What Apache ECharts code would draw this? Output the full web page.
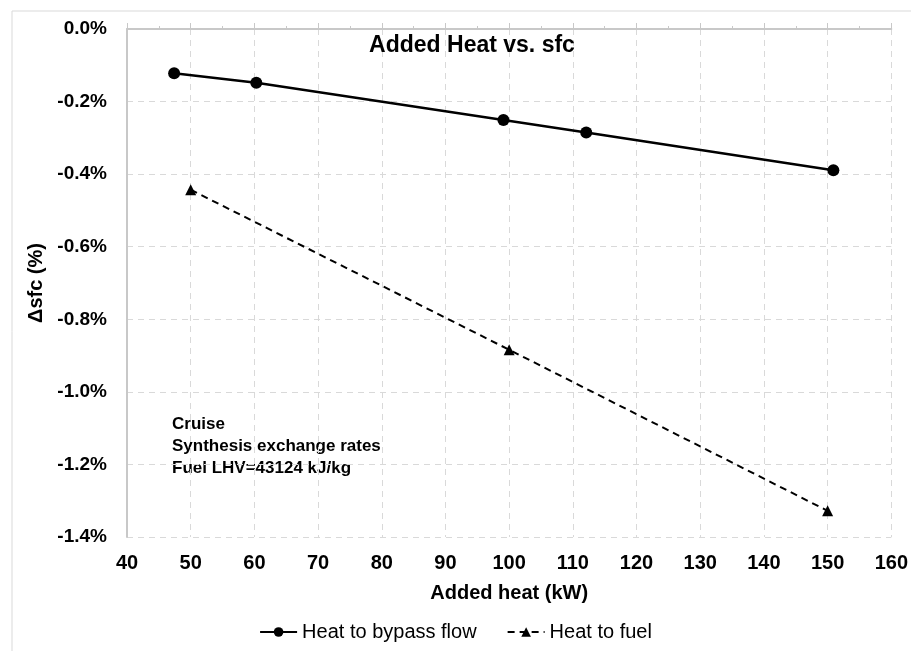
<!DOCTYPE html>
<html><head><meta charset="utf-8">
<script src="https://cdn.jsdelivr.net/npm/echarts@6/dist/echarts.min.js"></script>
<style>html,body{margin:0;padding:0;background:#fff}#c{width:911px;height:651px}</style>
</head><body><div id="c"></div>
<script>
var titleText = 'Added Heat vs. sfc';
var xName = 'Added heat (kW)';
var yName = 'Δsfc (%)';
var seriesNames = ['Heat to bypass flow', 'Heat to fuel'];
var bypassX = [47.4, 60.3, 99.1, 112.1, 150.9];
var bypassY = [-0.122, -0.148, -0.251, -0.285, -0.389];
var fuelX = [50, 100, 150];
var fuelY = [-0.443, -0.884, -1.328];
var noteLines = ['Cruise', 'Synthesis exchange rates', 'Fuel LHV=43124 kJ/kg'];

function pairs(xs, ys){ return xs.map(function(x,i){ return [x, ys[i]]; }); }
var FONT = '"Liberation Sans", Arial, sans-serif';
var chart = echarts.init(document.getElementById('c'));
chart.setOption({
  animation: false,
  backgroundColor: '#fff',
  textStyle: { fontFamily: FONT },
  title: { text: titleText, left: 467, top: 29, textAlign: 'center',
    textStyle: { fontFamily: FONT, fontSize: 23, fontWeight: 'bold', color: '#000' } },
  graphic: [
    { type: 'rect', shape: { x: 12, y: 11, width: 920, height: 660 }, style: { fill: 'none', stroke: '#d9d9d9', lineWidth: 1 }, silent: true },
    { type: 'text', left: 172, top: 413, style: { text: noteLines.join('\n'), font: 'bold 17px ' + FONT, fill: '#000', lineHeight: 22 } }
  ],
  legend: { bottom: 4, left: 'center', itemWidth: 37, itemHeight: 12, itemGap: 30,
    textStyle: { fontFamily: FONT, fontSize: 20, color: '#000' }, data: seriesNames },
  grid: { left: 127, right: 19, top: 29, bottom: 114, containLabel: false },
  xAxis: [
    { type: 'value', position: 'bottom', min: 40, max: 160, interval: 10,
      name: xName, nameLocation: 'middle', nameGap: 46,
      nameTextStyle: { fontFamily: FONT, fontSize: 20, fontWeight: 'bold', color: '#000' },
      axisLine: { show: false }, axisTick: { show: false },
      axisLabel: { fontFamily: FONT, fontSize: 20, fontWeight: 'bold', color: '#000', margin: 16 },
      splitLine: { show: true, lineStyle: { color: '#d9d9d9', type: [6, 5], width: 1 } } },
    { type: 'value', position: 'top', min: 40, max: 160, interval: 10,
      axisLine: { show: true, onZero: false, lineStyle: { color: '#c8c8c8', width: 2 } },
      axisTick: { show: true, inside: false, length: 6, lineStyle: { color: '#c8c8c8', width: 1 } },
      minorTick: { show: true, splitNumber: 2, length: 3, lineStyle: { color: '#c8c8c8' } },
      axisLabel: { show: false }, splitLine: { show: false } }
  ],
  yAxis: { type: 'value', min: -1.4, max: 0, interval: 0.2,
    name: yName, nameLocation: 'middle', nameGap: 72, nameRotate: 90,
    nameTextStyle: { fontFamily: FONT, fontSize: 20, fontWeight: 'bold', color: '#000' },
    axisLine: { show: true, onZero: false, lineStyle: { color: '#c8c8c8', width: 2 } },
    axisTick: { show: false },
    axisLabel: { fontFamily: FONT, fontSize: 19, fontWeight: 'bold', color: '#000', margin: 20,
      formatter: function(v){ return v.toFixed(1) + '%'; } },
    splitLine: { show: true, lineStyle: { color: '#d9d9d9', type: [6, 5], width: 1 } } },
  series: [
    { name: seriesNames[0], type: 'line', xAxisIndex: 0, data: pairs(bypassX, bypassY),
      symbol: 'circle', symbolSize: 12, lineStyle: { color: '#000', width: 2.5 },
      itemStyle: { color: '#000' } },
    { name: seriesNames[1], type: 'line', xAxisIndex: 0, data: pairs(fuelX, fuelY),
      symbol: 'triangle', symbolSize: 11, lineStyle: { color: '#000', width: 2, type: [7, 5] },
      itemStyle: { color: '#000' } }
  ]
});
</script></body></html>
